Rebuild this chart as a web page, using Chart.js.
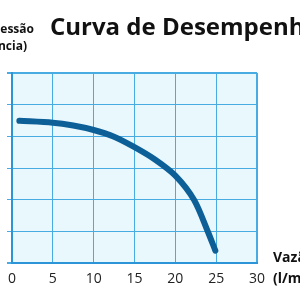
<!DOCTYPE html>
<html>
<head>
<meta charset="utf-8">
<script src="https://cdn.jsdelivr.net/npm/chart.js@4"></script>
<style>
  html, body { margin: 0; padding: 0; background: #fff; }
  #wrap { width: 300px; height: 300px; }
</style>
</head>
<body>
<div id="wrap"><canvas id="chartContainer" width="300" height="300"></canvas></div>
<script>
"use strict";

// 1: data
const flows = [0.9, 5, 7.5, 10, 12.5, 15, 17.5, 20, 22.3, 24, 24.9];
const pressures = [4.49, 4.43, 4.34, 4.20, 3.99, 3.66, 3.27, 2.76, 1.99, 0.98, 0.39];
const xTicks = [0, 5, 10, 15, 20, 25, 30];
const titleText = 'Curva de Desempenho';
const yTitleLines = ['Pressão', '(Potência)'];
const xTitleLines = ['Vazão', '(l/min)'];

// 2: prepare data for chart
function prepareData() {
  let points = [];
  for (let i = 0; i < flows.length; i++) {
    points.push({ x: flows[i], y: pressures[i] });
  }
  return points;
}

// plot background + free texts
const decor = {
  id: 'decor',
  beforeDraw(chart) {
    const { ctx, chartArea: a } = chart;
    ctx.save();
    ctx.fillStyle = '#e9f8fd';
    ctx.fillRect(a.left, a.top, a.right - a.left, a.bottom - a.top);
    ctx.restore();
  },
  afterDraw(chart) {
    const ctx = chart.ctx;
    ctx.save();
    ctx.fillStyle = '#111';
    ctx.textBaseline = 'alphabetic';
    ctx.font = 'bold 24px "Open Sans"';
    ctx.textAlign = 'left';
    ctx.fillText(titleText, 50, 35);
    ctx.font = 'bold 12px "Open Sans"';
    ctx.textAlign = 'right';
    ctx.fillText(yTitleLines[0], 34, 33);
    ctx.fillText(yTitleLines[1], 27, 50);
    ctx.textAlign = 'left';
    ctx.font = 'bold 14px "Open Sans"';
    ctx.fillText(xTitleLines[0], 273, 262);
    ctx.fillText(xTitleLines[1], 273, 283);
    ctx.restore();
  }
};

// 3: create and append the chart
function appendChart() {
  let chartContainer = document.getElementById('chartContainer');
  let edge = (ctx, last) => (ctx.index === 0 || ctx.index === last) ? 2 : 1;
  new Chart(chartContainer, {
    type: 'scatter',
    data: {
      datasets: [{
        data: prepareData(),
        showLine: true,
        borderColor: '#0d5f98',
        borderWidth: 6,
        borderCapStyle: 'round',
        borderJoinStyle: 'round',
        tension: 0.3,
        pointRadius: 0
      }]
    },
    plugins: [decor],
    options: {
      responsive: false,
      animation: false,
      layout: { padding: { top: 73, right: 43, left: 0, bottom: 0 } },
      plugins: { legend: { display: false }, tooltip: { enabled: false } },
      scales: {
        x: {
          type: 'linear',
          min: 0,
          max: 30,
          afterFit: s => { s.height = 37; },
          afterBuildTicks: s => { s.ticks = xTicks.map(v => ({ value: v })); },
          border: { display: true, color: '#2b95d8', width: 2 },
          grid: {
            color: '#48abe2',
            lineWidth: c => edge(c, xTicks.length - 1),
            drawTicks: false
          },
          ticks: {
            padding: 8,
            color: '#222',
            font: { family: '"Open Sans"', size: 14 }
          }
        },
        y: {
          min: 0,
          max: 6,
          afterFit: s => { s.width = 8; },
          border: { display: true, color: '#2b95d8', width: 2 },
          grid: {
            color: '#48abe2',
            lineWidth: c => edge(c, 6),
            tickLength: 5
          },
          ticks: { stepSize: 1, display: false }
        }
      }
    }
  });
}

appendChart();
</script>
</body>
</html>
